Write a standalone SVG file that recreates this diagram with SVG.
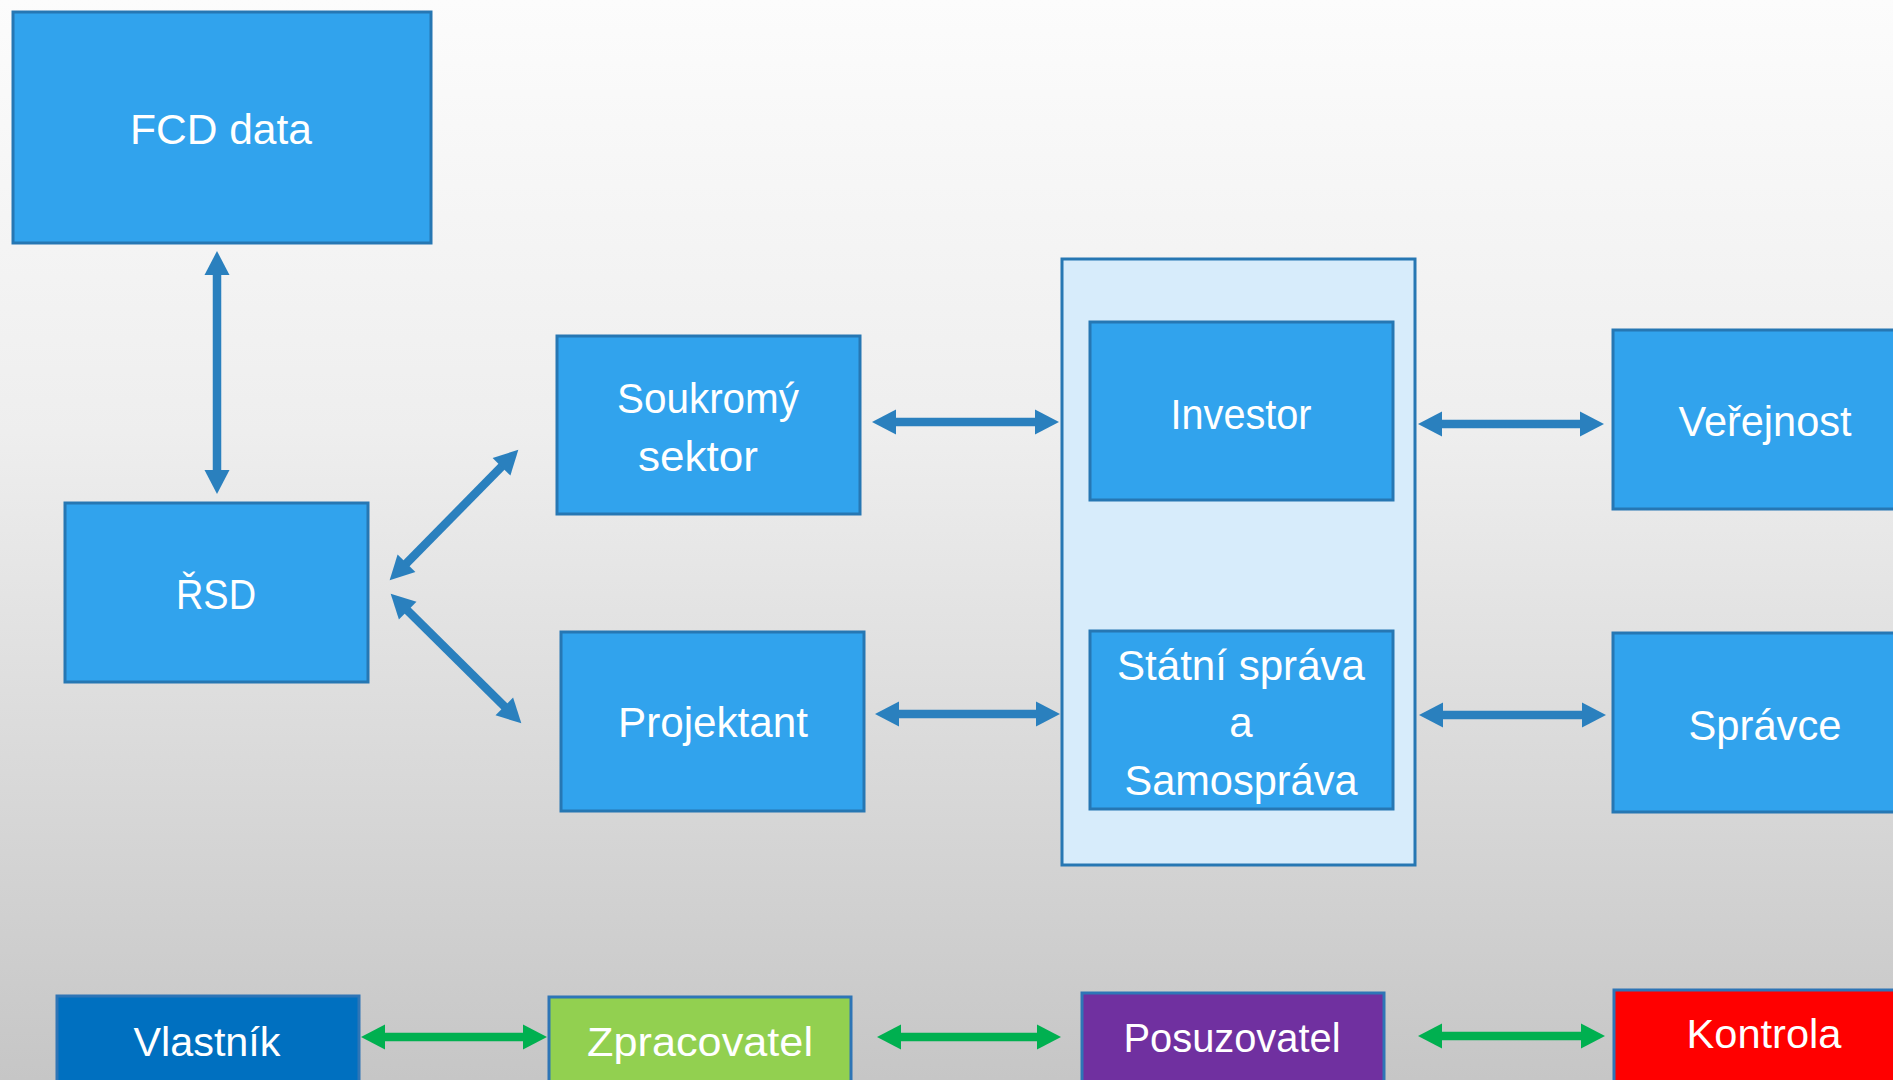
<svg xmlns="http://www.w3.org/2000/svg" width="1893" height="1080" viewBox="0 0 1893 1080">
<defs>
<linearGradient id="bg" x1="0" y1="0" x2="0" y2="1">
<stop offset="0" stop-color="#FCFCFC"/>
<stop offset="0.4" stop-color="#EEEEEE"/>
<stop offset="1" stop-color="#C6C6C6"/>
</linearGradient>
<marker id="hb" markerUnits="userSpaceOnUse" markerWidth="24" markerHeight="25" viewBox="0 0 24 25" refX="1" refY="12.5" orient="auto-start-reverse" overflow="visible">
<path d="M0,0 L24,12.5 L0,25 Z" fill="#2A80BE"/>
</marker>
<marker id="hg" markerUnits="userSpaceOnUse" markerWidth="24" markerHeight="25" viewBox="0 0 24 25" refX="1" refY="12.5" orient="auto-start-reverse" overflow="visible">
<path d="M0,0 L24,12.5 L0,25 Z" fill="#00B050"/>
</marker>
<style>
.box{fill:#31A3ED;stroke:#2677B3;stroke-width:3}
.cont{fill:#D7ECFB;stroke:#2677B3;stroke-width:3}
.t{font-family:"Liberation Sans",Arial,sans-serif;font-size:42px;fill:#FFFFFF;text-anchor:middle}
.tb{font-family:"Liberation Sans",Arial,sans-serif;font-size:40px;fill:#FFFFFF;text-anchor:middle}
.ab{stroke:#2A80BE;stroke-width:8.5;fill:none;marker-start:url(#hb);marker-end:url(#hb)}
.ag{stroke:#00B050;stroke-width:8.5;fill:none;marker-start:url(#hg);marker-end:url(#hg)}
</style>
</defs>
<rect x="0" y="0" width="1893" height="1080" fill="url(#bg)"/>

<g id="container-verejna">
<rect class="cont" x="1062" y="259" width="353" height="606"/>
</g>

<g id="node-fcd">
<rect class="box" x="13" y="12" width="418" height="231"/>
<text class="t" x="221" y="144" textLength="182" lengthAdjust="spacingAndGlyphs">FCD data</text>
</g>
<g id="node-rsd">
<rect class="box" x="65" y="503" width="303" height="179"/>
<text class="t" x="216" y="609" textLength="80" lengthAdjust="spacingAndGlyphs">ŘSD</text>
</g>
<g id="node-soukromy">
<rect class="box" x="557" y="336" width="303" height="178"/>
<text class="t" x="708" y="413" textLength="182" lengthAdjust="spacingAndGlyphs">Soukromý</text>
<text class="t" x="698" y="471" textLength="120" lengthAdjust="spacingAndGlyphs">sektor</text>
</g>
<g id="node-projektant">
<rect class="box" x="561" y="632" width="303" height="179"/>
<text class="t" x="713" y="737" textLength="190" lengthAdjust="spacingAndGlyphs">Projektant</text>
</g>
<g id="node-investor">
<rect class="box" x="1090" y="322" width="303" height="178"/>
<text class="t" x="1241" y="429" textLength="141" lengthAdjust="spacingAndGlyphs">Investor</text>
</g>
<g id="node-statni">
<rect class="box" x="1090" y="631" width="303" height="178"/>
<text class="t" x="1241" y="680" textLength="248" lengthAdjust="spacingAndGlyphs">Státní správa</text>
<text class="t" x="1241" y="737">a</text>
<text class="t" x="1241" y="795" textLength="233" lengthAdjust="spacingAndGlyphs">Samospráva</text>
</g>
<g id="node-verejnost">
<rect class="box" x="1613" y="330" width="303" height="179"/>
<text class="t" x="1765" y="436" textLength="173" lengthAdjust="spacingAndGlyphs">Veřejnost</text>
</g>
<g id="node-spravce">
<rect class="box" x="1613" y="633" width="303" height="179"/>
<text class="t" x="1765" y="740" textLength="153" lengthAdjust="spacingAndGlyphs">Správce</text>
</g>

<g id="node-vlastnik">
<rect x="57" y="996" width="302" height="100" fill="#0070C0" stroke="#2E75B6" stroke-width="3"/>
<text class="tb" x="207" y="1056" textLength="147" lengthAdjust="spacingAndGlyphs">Vlastník</text>
</g>
<g id="node-zpracovatel">
<rect x="549" y="997" width="302" height="100" fill="#92D050" stroke="#2E75B6" stroke-width="3"/>
<text class="tb" x="700" y="1056" textLength="226" lengthAdjust="spacingAndGlyphs">Zpracovatel</text>
</g>
<g id="node-posuzovatel">
<rect x="1082" y="993" width="302" height="100" fill="#7030A0" stroke="#2E75B6" stroke-width="3"/>
<text class="tb" x="1232" y="1052" textLength="217" lengthAdjust="spacingAndGlyphs">Posuzovatel</text>
</g>
<g id="node-kontrola">
<rect x="1614" y="990" width="302" height="100" fill="#FF0000" stroke="#2E75B6" stroke-width="3"/>
<text class="tb" x="1764" y="1048" textLength="155" lengthAdjust="spacingAndGlyphs">Kontrola</text>
</g>

<g id="connectors">
<line class="ab" x1="217" y1="274" x2="217" y2="471"/>
<line class="ab" x1="405.8" y1="563.9" x2="502.2" y2="466.1"/>
<line class="ab" x1="407" y1="609.9" x2="505" y2="707.1"/>
<line class="ab" x1="895" y1="422" x2="1036" y2="422"/>
<line class="ab" x1="898" y1="714" x2="1037" y2="714"/>
<line class="ab" x1="1441" y1="424" x2="1581" y2="424"/>
<line class="ab" x1="1442" y1="715" x2="1583" y2="715"/>
<line class="ag" x1="384" y1="1037" x2="524" y2="1037"/>
<line class="ag" x1="900" y1="1037" x2="1038" y2="1037"/>
<line class="ag" x1="1441" y1="1036" x2="1582" y2="1036"/>
</g>
</svg>
